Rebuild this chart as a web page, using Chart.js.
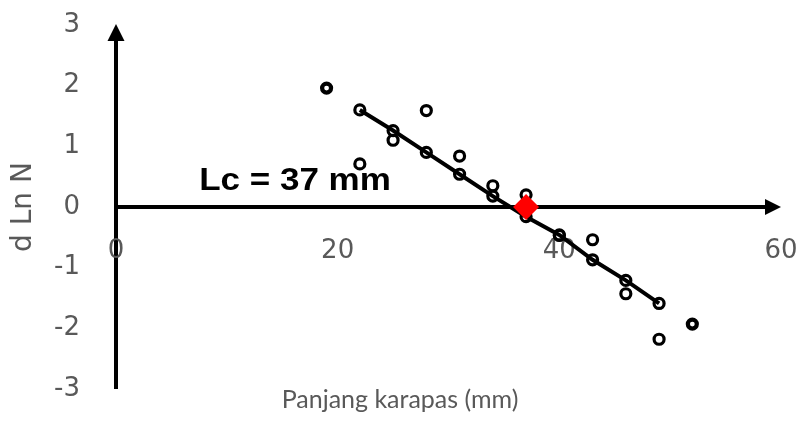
<!DOCTYPE html>
<html><head><meta charset="utf-8">
<script src="https://cdn.jsdelivr.net/npm/chart.js@4.4.1/dist/chart.umd.min.js"></script>
<style>html,body{margin:0;padding:0;background:#fff}#wrap{width:802px;height:432px}</style>
</head><body><div id="wrap"><canvas id="c" width="802" height="432"></canvas></div>
<script>
// ---- data ----
const fittedX = [22, 25, 28, 31, 34, 37, 40, 43, 46, 49];
const fittedY = [1.60, 1.26, 0.90, 0.54, 0.18, -0.16, -0.46, -0.87, -1.21, -1.59];
const obsX = [22, 25, 28, 31, 34, 37, 40, 43, 46, 49];
const obsY = [0.71, 1.10, 1.59, 0.84, 0.35, 0.20, -0.47, -0.54, -1.43, -2.18];
const outX = [19, 52];
const outY = [1.96, -1.93];
const lcX = [37];
const lcY = [0];
const xTickValues = [0, 20, 40, 60];
const yMin = -3, yMax = 3, xMin = 0, xMax = 60;
const lcLabel = 'Lc = 37 mm';
const xTitle = 'Panjang karapas (mm)';
const yTitle = 'd Ln N';

const pts = (xs, ys) => xs.map((v, i) => ({x: v, y: ys[i]}));
const TICK_FAMILY = '"DejaVu Sans", Verdana, sans-serif';
const TICK_FONT = '26px ' + TICK_FAMILY;
const GRAY = '#595959';

const axesPlugin = {
  id: 'axesArrows',
  beforeDatasetsDraw(chart) {
    const {ctx, scales: {x, y}} = chart;
    const x0 = x.getPixelForValue(0), y0 = y.getPixelForValue(0);
    const yTop = y.getPixelForValue(yMax), yBot = y.getPixelForValue(yMin);
    const xEnd = x.getPixelForValue(xMax);
    ctx.save();
    ctx.strokeStyle = '#000'; ctx.fillStyle = '#000'; ctx.lineWidth = 4;
    ctx.beginPath(); ctx.moveTo(x0, yBot); ctx.lineTo(x0, yTop + 12); ctx.stroke();
    ctx.beginPath(); ctx.moveTo(x0, yTop - 1); ctx.lineTo(x0 - 8.5, yTop + 16); ctx.lineTo(x0 + 8.5, yTop + 16); ctx.closePath(); ctx.fill();
    ctx.beginPath(); ctx.moveTo(x0 - 2, y0); ctx.lineTo(xEnd - 12, y0); ctx.stroke();
    ctx.beginPath(); ctx.moveTo(xEnd, y0); ctx.lineTo(xEnd - 16, y0 - 8); ctx.lineTo(xEnd - 16, y0 + 8); ctx.closePath(); ctx.fill();
    ctx.font = TICK_FONT; ctx.fillStyle = GRAY; ctx.textAlign = 'center'; ctx.textBaseline = 'middle';
    xTickValues.forEach(v => ctx.fillText(String(v), x.getPixelForValue(v), y0 + 44));
    ctx.restore();
  },
  afterDatasetsDraw(chart) {
    const {ctx, scales: {x, y}} = chart;
    ctx.save();
    ctx.font = 'bold 31px "Liberation Sans", Arial, sans-serif';
    ctx.fillStyle = '#000'; ctx.textAlign = 'left'; ctx.textBaseline = 'alphabetic';
    ctx.translate(x.getPixelForValue(7.5), y.getPixelForValue(0.28));
    ctx.scale(1.13, 1);
    ctx.fillText(lcLabel, 0, 0);
    ctx.restore();
  }
};

new Chart(document.getElementById('c'), {
  type: 'scatter',
  data: {
    datasets: [
      {label: 'Lc', data: pts(lcX, lcY), pointStyle: 'rectRot', pointRadius: 13, pointBackgroundColor: '#ff0000', pointBorderWidth: 0, borderColor: '#ff0000'},
      {label: 'Fitted', data: pts(fittedX, fittedY), showLine: true, borderColor: '#000', borderWidth: 4, pointRadius: 5, pointBorderWidth: 3.2, pointBorderColor: '#000', pointBackgroundColor: 'rgba(0,0,0,0)'},
      {label: 'Observed', data: pts(obsX, obsY), pointRadius: 5, pointBorderWidth: 3.2, pointBorderColor: '#000', pointBackgroundColor: 'rgba(0,0,0,0)'},
      {label: 'Excluded', data: pts(outX, outY), pointRadius: 4.5, pointBorderWidth: 4.2, pointBorderColor: '#000', pointBackgroundColor: 'rgba(0,0,0,0)'}
    ]
  },
  options: {
    responsive: false, animation: false, devicePixelRatio: 1,
    layout: {padding: {left: 19, right: 21, top: 25, bottom: 21}},
    plugins: {
      legend: {display: false}, tooltip: {enabled: false},
      title: {display: true, position: 'bottom', text: xTitle, color: GRAY,
        font: {family: 'Lato, "Open Sans", sans-serif', size: 25, weight: 'normal', lineHeight: '22px'}, padding: {top: 0, bottom: 0}}
    },
    scales: {
      x: {type: 'linear', min: xMin, max: xMax, display: false},
      y: {type: 'linear', min: yMin, max: yMax,
        grid: {display: false, drawTicks: false}, border: {display: false},
        ticks: {stepSize: 1, color: GRAY, padding: 36, font: {family: TICK_FAMILY, size: 26}},
        title: {display: true, text: yTitle, color: GRAY, font: {family: TICK_FAMILY, size: 28, lineHeight: '26px'}, padding: {top: -8, bottom: 0}},
        afterFit(scale) { scale.width = 97; scale.paddingTop = 0; scale.paddingBottom = 0; }
      }
    }
  },
  plugins: [axesPlugin]
});
</script></body></html>
